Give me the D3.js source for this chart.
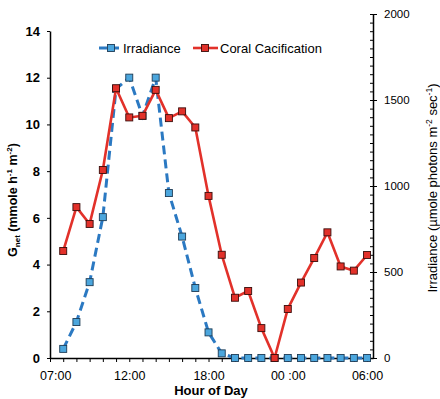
<!DOCTYPE html>
<html>
<head>
<meta charset="utf-8">
<script src="https://cdn.jsdelivr.net/npm/d3@7"></script>
<style>
  body { margin: 0; background: #fff; }
  svg { font-family: "Liberation Sans", Arial, sans-serif; }
  .axis path, .axis line { stroke: #000; }
</style>
</head>
<body>
<script>
// hours of day (7 = 07:00, 30 = 06:00 next day)
var hours = [7, 8, 9, 10, 11, 12, 13, 14, 15, 16, 17, 18, 19, 20, 21, 22, 23, 24, 25, 26, 27, 28, 29, 30];

// coral calcification, Gnet (mmole h-1 m-2)
var gnet = [4.58, 6.46, 5.74, 8.05, 11.55, 10.3, 10.37, 11.48, 10.27, 10.56, 9.87, 6.94,
            4.42, 2.58, 2.87, 1.28, 0, 2.1, 3.23, 4.28, 5.38, 3.92, 3.74, 4.41];

// irradiance (umole photons m-2 sec-1)
var irradiance = [53, 209, 441, 819, 1565, 1630, 1407, 1630, 959, 706, 407, 149,
                  27, 0, 0, 0, 0, 0, 0, 0, 0, 0, 0, 0];

var xLabelHours = [7, 12, 18, 24, 30];
var xLabelText = ["07:00", "12:00", "18:00", "00 :00", "06:00"];
var leftTicks = [0, 2, 4, 6, 8, 10, 12, 14];
var rightTicks = [0, 500, 1000, 1500, 2000];

var svgWidth = 440;
var svgHeight = 399;

var svg = d3.select("body")
  .append("svg")
  .attr("width", svgWidth)
  .attr("height", svgHeight);

var red = "#e2312a";
var blueLine = "#2b79c2";
var blueFill = "#4ba6dd";

// scales
var x = d3.scaleLinear().domain([6, 30.45]).range([50, 373]);
var yLeft = d3.scaleLinear().domain([0, 14]).range([358, 31]);
var yRight = d3.scaleLinear().domain([0, 2000]).range([358, 14]);

// left axis
var leftAxis = svg.append("g")
  .attr("class", "axis")
  .attr("transform", "translate(50,0)")
  .call(d3.axisLeft(yLeft).tickValues(leftTicks).tickSize(3).tickPadding(7).tickSizeOuter(0));
leftAxis.selectAll("text")
  .style("font-size", "13px")
  .style("font-weight", "bold")
  .attr("fill", "#000");
leftAxis.select(".domain").attr("stroke-width", 1.5);

// right axis: minor ticks inside, major ticks outside
var rightMinor = svg.append("g")
  .attr("class", "axis")
  .attr("transform", "translate(373,0)")
  .call(d3.axisLeft(yRight).tickValues(d3.range(0, 2001, 50)).tickSize(3).tickFormat("").tickSizeOuter(0));
rightMinor.select(".domain").remove();

var rightAxis = svg.append("g")
  .attr("class", "axis")
  .attr("transform", "translate(373,0)")
  .call(d3.axisRight(yRight).tickValues(rightTicks).tickSize(4).tickPadding(7)
    .tickSizeOuter(0).tickFormat(d3.format("d")));
rightAxis.selectAll("text")
  .style("font-size", "11.5px")
  .attr("fill", "#000");
rightAxis.select(".domain").attr("stroke-width", 1.5);

// x axis: hourly ticks, then labels
var xTicks = svg.append("g")
  .attr("class", "axis")
  .attr("transform", "translate(0,358)")
  .call(d3.axisBottom(x).tickValues(d3.range(6, 31, 1)).tickSize(4).tickFormat("").tickSizeOuter(0));
xTicks.select(".domain").attr("stroke-width", 1.5);

var xLabels = svg.append("g")
  .attr("transform", "translate(0,358)")
  .call(d3.axisBottom(x).tickValues(xLabelHours).tickSize(0).tickPadding(13)
    .tickFormat(function (d, i) { return xLabelText[i]; }));
xLabels.select(".domain").remove();
xLabels.selectAll("text")
  .style("font-size", "12.5px")
  .attr("fill", "#000")
  .attr("dx", function (d, i) { return i === 0 ? -8 : 0; });

// axis titles
svg.append("text")
  .attr("x", 211)
  .attr("y", 395)
  .attr("text-anchor", "middle")
  .style("font-size", "13px")
  .style("font-weight", "bold")
  .text("Hour of Day");

var leftTitle = svg.append("text")
  .attr("transform", "translate(17,200) rotate(-90)")
  .attr("text-anchor", "middle")
  .style("font-size", "12.5px")
  .style("font-weight", "bold");
leftTitle.append("tspan").text("G");
leftTitle.append("tspan").text("net").attr("dy", 3).style("font-size", "8px");
leftTitle.append("tspan").text(" (mmole h").attr("dy", -3);
leftTitle.append("tspan").text("-1").attr("dy", -5).style("font-size", "8px");
leftTitle.append("tspan").text(" m").attr("dy", 5);
leftTitle.append("tspan").text("-2").attr("dy", -5).style("font-size", "8px");
leftTitle.append("tspan").text(")").attr("dy", 5);

var rightTitle = svg.append("text")
  .attr("transform", "translate(437,188) rotate(-90)")
  .attr("text-anchor", "middle")
  .style("font-size", "13px");
rightTitle.append("tspan").text("Irradiance (\u00b5mole photons m");
rightTitle.append("tspan").text("-2").attr("dy", -5).style("font-size", "8.5px");
rightTitle.append("tspan").text(" sec").attr("dy", 5);
rightTitle.append("tspan").text("-1").attr("dy", -5).style("font-size", "8.5px");
rightTitle.append("tspan").text(")").attr("dy", 5);

// lines
var irrLine = d3.line()
  .x(function (d, i) { return x(hours[i]); })
  .y(function (d) { return yRight(d); });

var gnetLine = d3.line()
  .x(function (d, i) { return x(hours[i]); })
  .y(function (d) { return yLeft(d); });

var ms = 7;

svg.append("path")
  .attr("d", irrLine(irradiance))
  .attr("fill", "none")
  .attr("stroke", blueLine)
  .attr("stroke-width", 3)
  .attr("stroke-dasharray", "9,5");

svg.selectAll(".irrPt")
  .data(irradiance)
  .enter()
  .append("rect")
  .attr("class", "irrPt")
  .attr("x", function (d, i) { return x(hours[i]) - ms / 2; })
  .attr("y", function (d) { return yRight(d) - ms / 2; })
  .attr("width", ms)
  .attr("height", ms)
  .attr("fill", blueFill)
  .attr("stroke", "#1d3b55")
  .attr("stroke-width", 0.9);

svg.append("path")
  .attr("d", gnetLine(gnet))
  .attr("fill", "none")
  .attr("stroke", red)
  .attr("stroke-width", 2.6)
  .attr("stroke-linejoin", "round");

svg.selectAll(".gnetPt")
  .data(gnet)
  .enter()
  .append("rect")
  .attr("class", "gnetPt")
  .attr("x", function (d, i) { return x(hours[i]) - ms / 2; })
  .attr("y", function (d) { return yLeft(d) - ms / 2; })
  .attr("width", ms)
  .attr("height", ms)
  .attr("fill", red)
  .attr("stroke", "#3a0d0b")
  .attr("stroke-width", 0.9);

// legend
var legend = svg.append("g");
legend.append("line")
  .attr("x1", 99).attr("x2", 122).attr("y1", 48).attr("y2", 48)
  .attr("stroke", blueLine).attr("stroke-width", 3).attr("stroke-dasharray", "8,4");
legend.append("rect")
  .attr("x", 111 - ms / 2).attr("y", 48 - ms / 2).attr("width", ms).attr("height", ms)
  .attr("fill", blueFill).attr("stroke", "#1d3b55").attr("stroke-width", 0.9);
legend.append("text")
  .attr("x", 123).attr("y", 52.5)
  .style("font-size", "13px")
  .text("Irradiance");

legend.append("line")
  .attr("x1", 193).attr("x2", 218).attr("y1", 48).attr("y2", 48)
  .attr("stroke", red).attr("stroke-width", 2.6);
legend.append("rect")
  .attr("x", 205 - ms / 2).attr("y", 48 - ms / 2).attr("width", ms).attr("height", ms)
  .attr("fill", red).attr("stroke", "#3a0d0b").attr("stroke-width", 0.9);
legend.append("text")
  .attr("x", 220).attr("y", 52.5)
  .style("font-size", "13px")
  .text("Coral Cacification");
</script>
</body>
</html>
